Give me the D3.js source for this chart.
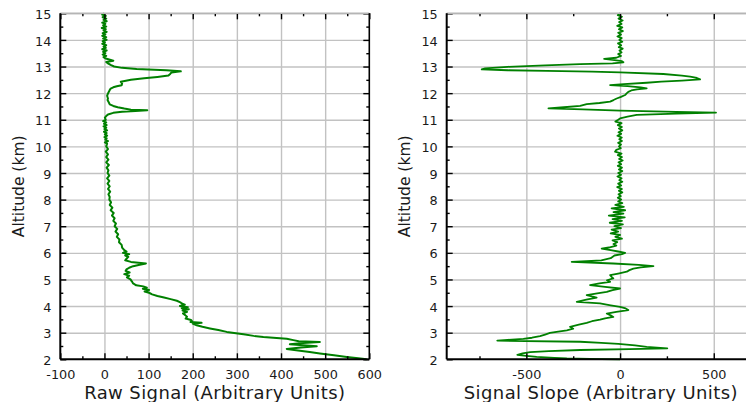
<!DOCTYPE html>
<html>
<head>
<meta charset="utf-8">
<script src="https://cdn.jsdelivr.net/npm/d3@7"></script>
<style>
  body { margin: 0; background: #fff; }
  svg { display: block; font-family: "DejaVu Sans", Verdana, sans-serif; }
</style>
</head>
<body>
<svg id="chart" width="746" height="402"></svg>
<script>
// Altitude axis ticks (km)
const altTicks = [2, 3, 4, 5, 6, 7, 8, 9, 10, 11, 12, 13, 14, 15];
const altMinorTicks = [2.5, 3.5, 4.5, 5.5, 6.5, 7.5, 8.5, 9.5, 10.5, 11.5, 12.5, 13.5, 14.5];

// Raw signal axis ticks
const rawTicks = [-100, 0, 100, 200, 300, 400, 500, 600];
const rawMinorTicks = [-50, 50, 150, 250, 350, 450, 550];
const rawGrid = [0, 100, 200, 300, 400, 500];

// Signal slope axis ticks
const slopeTicks = [-500, 0, 500];
const slopeMinorTicks = [-750, -250, 250];
const slopeGrid = [-500, 0, 500];

// Raw signal profile
const rawAlt = [
  15.0, 14.95, 14.9, 14.85, 14.8, 14.75, 14.7, 14.65, 14.6, 14.55, 14.5, 14.45, 14.4, 14.35, 14.3, 14.25,
  14.2, 14.15, 14.1, 14.05, 14.0, 13.95, 13.9, 13.85, 13.8, 13.75, 13.7, 13.65, 13.6, 13.55, 13.5, 13.45,
  13.4, 13.35, 13.3,
  13.22, 13.17, 13.12, 13.05, 13.0, 12.95, 12.91, 12.86, 12.82, 12.78, 12.72, 12.66, 12.61, 12.56, 12.5, 12.43,
  12.36, 12.3, 12.26, 12.22, 12.17, 12.12, 12.05, 11.99, 11.9, 11.8, 11.74, 11.65, 11.58, 11.52, 11.47, 11.42,
  11.38, 11.36, 11.33, 11.3, 11.26, 11.2, 11.14, 11.08, 11.0, 10.95, 10.9, 10.85, 10.8, 10.75, 10.7, 10.65,
  10.6, 10.55, 10.5, 10.45, 10.4, 10.35, 10.3, 10.25, 10.2, 10.15,
  10.1, 10.0, 9.9, 9.8, 9.7, 9.6, 9.5, 9.4, 9.3, 9.2, 9.1, 9.0, 8.9, 8.8, 8.7, 8.6, 8.5, 8.4, 8.3, 8.2, 8.1,
  8.0, 7.9, 7.8, 7.7, 7.6, 7.5, 7.4, 7.3, 7.2, 7.1, 7.0, 6.9, 6.8, 6.7, 6.6, 6.5, 6.4, 6.3, 6.2, 6.1, 6.05,
  6.0, 5.95, 5.9, 5.85, 5.78, 5.72, 5.66, 5.6, 5.55, 5.5, 5.44, 5.38, 5.32, 5.26, 5.2, 5.14, 5.08, 5.0, 4.93,
  4.85, 4.78, 4.74, 4.69, 4.65, 4.6, 4.55, 4.5, 4.44, 4.38, 4.32, 4.26, 4.2, 4.14, 4.1, 4.05, 4.0, 3.96, 3.92,
  3.88, 3.83, 3.78, 3.72, 3.66, 3.6, 3.53, 3.48, 3.44, 3.4, 3.37, 3.34, 3.28, 3.22, 3.16, 3.1, 3.03, 2.98,
  2.94, 2.88, 2.84, 2.8, 2.77, 2.72, 2.68, 2.65, 2.61, 2.57, 2.53, 2.49, 2.44, 2.39, 2.35, 2.32, 2.27, 2.22,
  2.15, 2.09, 2.04, 2.0
];
const rawSignal = [
  0, -5, 3, -4, 4, -2, 5, -5, 2, -3, 4, -6, 3, -2, 5, -4,
  2, -5, 4, -3, 5, -4, 1, -5, 4, -2, 3, -5, 5, -3, 2, -4,
  4, -2, 3,
  20, 4, 8, 15, 22, 40, 73, 140, 173, 152, 149, 145, 120, 90, 60, 37,
  40, 39, 28, 20, 14, 12, 10, 8, 6, 8, 7, 10, 12, 20, 30, 45,
  60, 97, 70, 40, 20, 8, 4, 1, 3, -3, 4, -1, 5, -2, 4, 0,
  6, -1, 5, 1, 6, 0, 5, 2, 8, 1,
  6, 4, 8, 3, 8, 4, 9, 4, 10, 5, 9, 7, 11, 6, 11, 7, 12, 8, 13, 9, 12,
  11, 15, 12, 18, 14, 21, 17, 23, 20, 26, 23, 29, 25, 31, 28, 34, 33, 39, 40, 45, 50,
  42, 56, 47, 54, 50, 47, 60, 94, 80, 65, 56, 50, 48, 57, 45, 56, 51, 59, 62,
  65, 72, 88, 96, 87, 101, 91, 101, 108, 120, 135, 150, 164, 172, 175, 182, 171, 189, 175,
  191, 177, 187, 178, 183, 187, 184, 196, 198, 195, 220, 200, 209, 222, 239, 258, 277, 298,
  315, 338, 360, 390, 413, 428, 440, 488, 450, 420, 450, 481, 445, 413, 430, 443, 465, 488,
  520, 549, 575, 594
];

// Signal slope profile
const slopeAlt = [
  15.0, 14.93, 14.87, 14.8, 14.73, 14.67, 14.6, 14.53, 14.47, 14.4, 14.33, 14.27, 14.2, 14.13, 14.07, 14.0,
  13.93, 13.87, 13.8, 13.73, 13.67, 13.6, 13.53, 13.47, 13.4, 13.33, 13.29, 13.25, 13.2, 13.16, 13.12, 13.09,
  13.04, 12.99, 12.93, 12.89, 12.86, 12.84, 12.81, 12.78, 12.72, 12.66, 12.62, 12.57, 12.52, 12.47, 12.43,
  12.39, 12.34, 12.3, 12.26, 12.22, 12.18, 12.14, 12.1, 12.05, 11.99, 11.93, 11.86, 11.8, 11.74, 11.68, 11.63,
  11.59, 11.52, 11.47, 11.43, 11.39, 11.34, 11.3, 11.27, 11.23, 11.18, 11.12, 11.05, 11.0, 10.93, 10.87, 10.8,
  10.73, 10.67, 10.6, 10.53, 10.47, 10.4, 10.33, 10.27, 10.2, 10.13, 10.07, 10.0, 9.93, 9.87, 9.8, 9.73, 9.67,
  9.6, 9.53, 9.47, 9.4, 9.33, 9.27, 9.2, 9.13, 9.07, 9.0, 8.93, 8.87, 8.8, 8.73, 8.67, 8.6, 8.53, 8.47, 8.4,
  8.33, 8.27, 8.2, 8.13, 8.07, 8.0, 7.93, 7.87, 7.8, 7.73, 7.67, 7.6, 7.53, 7.47, 7.4, 7.33, 7.27, 7.2, 7.13,
  7.07, 7.0, 6.93, 6.87, 6.8, 6.73, 6.67, 6.6, 6.53, 6.47, 6.4, 6.33, 6.27, 6.2, 6.16, 6.1, 6.05, 6.0, 5.95,
  5.9, 5.8, 5.72, 5.66, 5.6, 5.55, 5.5, 5.45, 5.41, 5.35, 5.29, 5.22, 5.16, 5.1, 5.04, 4.97, 4.91, 4.85, 4.79,
  4.72, 4.66, 4.6, 4.53, 4.47, 4.41, 4.36, 4.32, 4.24, 4.16, 4.1, 4.03, 3.97, 3.91, 3.85, 3.78, 3.72, 3.65,
  3.59, 3.54, 3.49, 3.43, 3.37, 3.3, 3.22, 3.15, 3.09, 3.04, 2.99, 2.93, 2.87, 2.81, 2.77, 2.73, 2.7, 2.66,
  2.62, 2.58, 2.52, 2.47, 2.41, 2.38, 2.35, 2.31, 2.27, 2.22, 2.17, 2.13, 2.09, 2.05, 2.03, 2.01, 2.0
];
const slopeValue = [
  0, -12, 10, -8, 14, -5, 8, -15, 12, -6, 15, -10, 5, -14, 9, -4,
  12, -11, 6, -7, 14, -3, 8, -10, 5, -20, -85, -40, 10, 18, -40, -213,
  -400, -600, -720, -738, -600, -391, -150, 0, 231, 330, 374, 410, 427, 330, 220,
  142, 20, -53, 40, 110, 142, 90, 60, 44, 35, 27, 5, -18, -35, -53, -110,
  -178, -213, -300, -382, -200, 0, 300, 512, 300, 89, 40, 0, -10, -25, 8, -12,
  10, -6, 12, -8, 6, -14, 9, -4, 10, -10, 5, -6, 4, -20, -27, 8, -12,
  10, -5, 14, -8, 6, -12, 10, -6, 12, -10, 5, -14, 8, -4, 12, -10, 6, -15, 10,
  -6, 12, -8, 4, -12, 6, -10, 12, -25, 20, -45, 27, -35, 18, -60, 25, -40, 10, -55,
  15, -30, 5, -45, -10, -50, 0, -25, 10, -40, -15, -35, -20, -60, -98, -50, -10, 27, 10,
  -30, -50, -100, -258, -36, 100, 178, 110, 71, 50, 36, -10, -53, -45, -36, -70, -53, -110, -160,
  -80, 0, -40, -71, -130, -178, -150, -125, -180, -231, -107, -50, 0, 30, 44, -20, -71, -50,
  -36, -80, -107, -150, -178, -220, -267, -250, -284, -330, -374, -400, -427, -470, -516, -600, -655, -213,
  -100, -9, 80, 142, 252, 50, -213, -380, -480, -520, -548, -500, -445, -350, -284, -100, 0
];

const svg = d3.select("#chart");
const yScale = d3.scaleLinear().domain([2, 15]).range([359.3, 13.3]);
// plain hyphen for negative tick labels
const plainFormat = d => String(d);

function drawPanel(cfg) {
  const x = cfg.x, y = yScale;
  const [x0, x1] = x.range();
  const [yb, yt] = y.range();
  const w = x1 - x0, h = yb - yt;
  const g = svg.append("g");

  // grid
  const gridStyle = s => {
    s.select(".domain").remove();
    s.selectAll("line").attr("stroke", "#c2c2c2").attr("stroke-width", 1.4);
  };
  g.append("g").attr("transform", `translate(0,${yb})`)
    .call(d3.axisBottom(x).tickValues(cfg.grid).tickSize(-h).tickFormat(""))
    .call(gridStyle);
  g.append("g").attr("transform", `translate(${x0},0)`)
    .call(d3.axisLeft(y).tickValues(altTicks.slice(1)).tickSize(-w).tickFormat(""))
    .call(gridStyle);

  // profile line
  const pts = cfg.alt.map((a, i) => ({ a, v: cfg.vals[i] }));
  g.append("path").datum(pts)
    .attr("fill", "none")
    .attr("stroke", "#008000")
    .attr("stroke-width", cfg.lineWidth)
    .attr("stroke-linejoin", "round")
    .attr("d", d3.line().x(d => x(d.v)).y(d => y(d.a)));

  const tickStyle = s => {
    s.select(".domain").remove();
    s.selectAll("line").attr("stroke", "#000").attr("stroke-width", 1.4);
    s.selectAll("text").attr("fill", "#1a1a1a").attr("font-size", "12.8px")
      .attr("font-family", "DejaVu Sans, Verdana, sans-serif");
  };

  // left axis ticks + labels
  g.append("g").attr("transform", `translate(${x0},0)`)
    .call(d3.axisLeft(y).tickValues(altTicks).tickFormat(plainFormat)
      .tickSizeInner(-6).tickSizeOuter(0).tickPadding(9))
    .call(tickStyle)
    .call(s => s.selectAll("text").attr("dy", "0.4em"));
  g.append("g").attr("transform", `translate(${x0},0)`)
    .call(d3.axisLeft(y).tickValues(altMinorTicks).tickSize(-3).tickFormat(""))
    .call(tickStyle);

  // bottom axis ticks + labels
  g.append("g").attr("transform", `translate(0,${yb})`)
    .call(d3.axisBottom(x).tickValues(cfg.major).tickFormat(plainFormat)
      .tickSizeInner(-6).tickSizeOuter(0).tickPadding(11))
    .call(tickStyle);
  g.append("g").attr("transform", `translate(0,${yb})`)
    .call(d3.axisBottom(x).tickValues(cfg.minor).tickSize(-3).tickFormat(""))
    .call(tickStyle);

  // top ticks
  g.append("g").attr("transform", `translate(0,${yt})`)
    .call(d3.axisTop(x).tickValues(cfg.major).tickSize(-6).tickFormat(""))
    .call(tickStyle);
  g.append("g").attr("transform", `translate(0,${yt})`)
    .call(d3.axisTop(x).tickValues(cfg.minor).tickSize(-3).tickFormat(""))
    .call(tickStyle);

  // right ticks
  g.append("g").attr("transform", `translate(${x1},0)`)
    .call(d3.axisRight(y).tickValues(altTicks).tickSize(-6).tickFormat(""))
    .call(tickStyle);
  g.append("g").attr("transform", `translate(${x1},0)`)
    .call(d3.axisRight(y).tickValues(altMinorTicks).tickSize(-3).tickFormat(""))
    .call(tickStyle);

  // frame
  g.append("line").attr("x1", x0).attr("x2", x1).attr("y1", yt).attr("y2", yt)
    .attr("stroke", "#b5b5b5").attr("stroke-width", 1.4);
  g.append("line").attr("x1", x0).attr("x2", x1).attr("y1", yb).attr("y2", yb)
    .attr("stroke", "#000").attr("stroke-width", 2);
  g.append("line").attr("x1", x0).attr("x2", x0).attr("y1", yt).attr("y2", yb)
    .attr("stroke", "#000").attr("stroke-width", 2);
  g.append("line").attr("x1", x1).attr("x2", x1).attr("y1", yt).attr("y2", yb)
    .attr("stroke", "#000").attr("stroke-width", 1.6);

  // titles
  g.append("text")
    .attr("x", (x0 + x1) / 2).attr("y", 399)
    .attr("text-anchor", "middle")
    .attr("font-size", "18px").attr("letter-spacing", "0.4px")
    .attr("fill", "#1a1a1a")
    .text(cfg.title);
  g.append("text")
    .attr("transform", `translate(${cfg.yTitleX},${(yb + yt) / 2}) rotate(-90)`)
    .attr("text-anchor", "middle")
    .attr("font-size", "15.5px")
    .attr("fill", "#1a1a1a")
    .text("Altitude (km)");
}

drawPanel({
  x: d3.scaleLinear().domain([-100, 600]).range([60.3, 369.3]),
  major: rawTicks, minor: rawMinorTicks, grid: rawGrid,
  alt: rawAlt, vals: rawSignal,
  lineWidth: 2,
  title: "Raw Signal (Arbitrary Units)",
  yTitleX: 24
});

drawPanel({
  x: d3.scaleLinear().domain([-925, 720]).range([446.7, 755]),
  major: slopeTicks, minor: slopeMinorTicks, grid: slopeGrid,
  alt: slopeAlt, vals: slopeValue,
  lineWidth: 1.8,
  title: "Signal Slope (Arbitrary Units)",
  yTitleX: 410
});
</script>
</body>
</html>
